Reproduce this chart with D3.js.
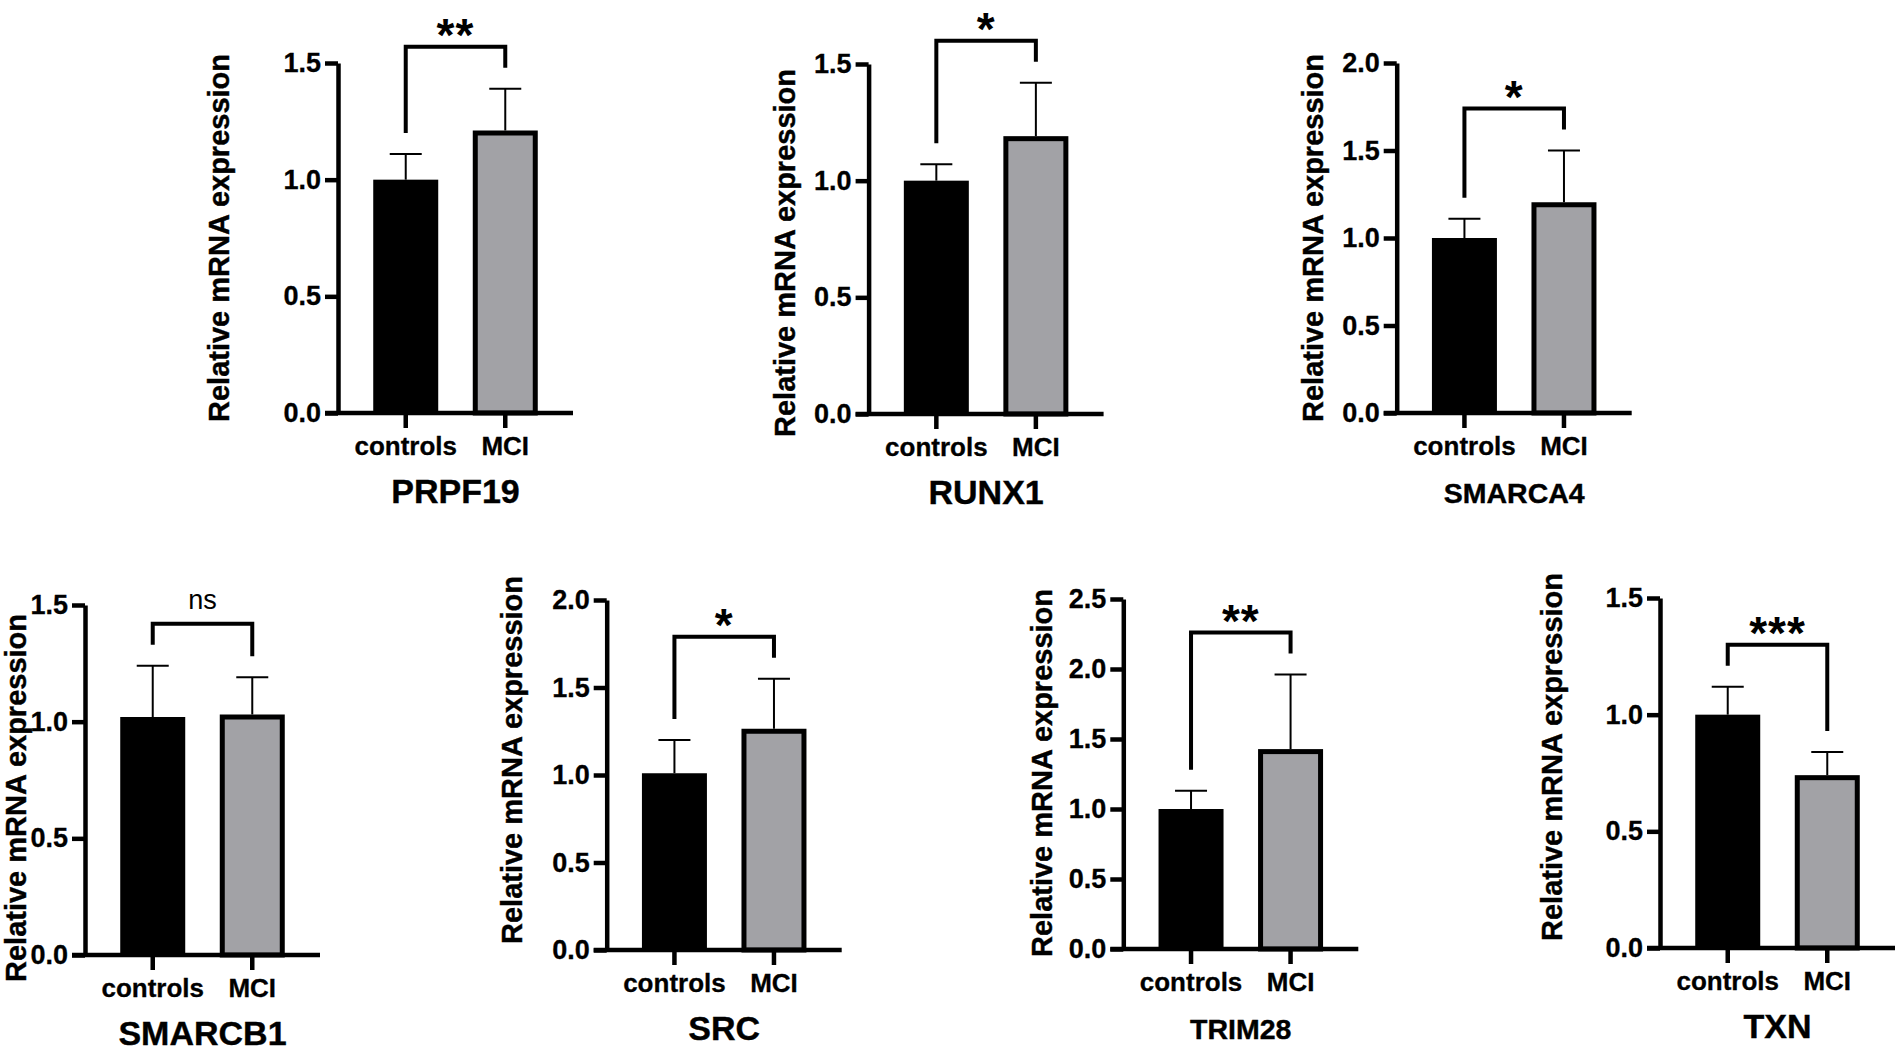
<!DOCTYPE html>
<html>
<head>
<meta charset="utf-8">
<script src="https://cdn.jsdelivr.net/npm/d3@7"></script>
<style>
  html, body { margin: 0; padding: 0; background: #fff; }
  svg { display: block; }
  text { font-family: "Liberation Sans", Arial, Helvetica, sans-serif; fill: #000; }
</style>
</head>
<body>
<svg id="chart" width="1902" height="1052"></svg>
<script>
// ---- data ----
const genes = ["PRPF19", "RUNX1", "SMARCA4", "SMARCB1", "SRC", "TRIM28", "TXN"];
const groups = ["controls", "MCI"];
const controlMean = [1.00, 1.00, 1.00, 1.02, 1.01, 1.00, 1.00];
const controlSD   = [0.11, 0.07, 0.11, 0.22, 0.19, 0.13, 0.12];
const mciMean     = [1.20, 1.18, 1.19, 1.02, 1.25, 1.41, 0.73];
const mciSD       = [0.19, 0.24, 0.31, 0.17, 0.30, 0.55, 0.11];
const yMax        = [1.5, 1.5, 2.0, 1.5, 2.0, 2.5, 1.5];
const tickStep    = 0.5;
const significance = ["**", "*", "*", "ns", "*", "**", "***"];
const yTitle = "Relative mRNA expression";

// ---- layout (pixel placement of each panel) ----
const layout = [
  { ax: 338,    y0: 413, tx: 119, ty: 175, ts: 34 },
  { ax: 868.6,  y0: 414, tx: 84,  ty: 161, ts: 34 },
  { ax: 1396.7, y0: 413, tx: 84,  ty: 175, ts: 28.5 },
  { ax: 85,     y0: 955, tx: 69,  ty: 157, ts: 34 },
  { ax: 606.7,  y0: 950, tx: 95,  ty: 190, ts: 34 },
  { ax: 1123.3, y0: 949, tx: 82,  ty: 176, ts: 28.5 },
  { ax: 1660,   y0: 948, tx: 108, ty: 191, ts: 34 }
];
const PH = 350, PW = 235;
const GRAY = "#a2a2a6";
const FONT = "Liberation Sans, Arial, sans-serif";

const svg = d3.select("#chart");

genes.forEach((gene, i) => {
  const L = layout[i];
  const g = svg.append("g").attr("transform", `translate(${L.ax},${L.y0})`);

  const y = d3.scaleLinear().domain([0, yMax[i]]).range([0, -PH]);
  const x = d3.scaleBand().domain(groups).range([0, PW])
    .paddingInner(0.347).paddingOuter(0.354);
  const bw = x.bandwidth();
  const ticks = d3.range(0, yMax[i] + 1e-9, tickStep);

  const means = [controlMean[i], mciMean[i]];
  const sds = [controlSD[i], mciSD[i]];

  // bars
  g.append("rect")
    .attr("x", x(groups[0])).attr("width", bw)
    .attr("y", y(means[0])).attr("height", -y(means[0]))
    .attr("fill", "#000");
  g.append("rect")
    .attr("x", x(groups[1]) + 2.5).attr("width", bw - 5)
    .attr("y", y(means[1])).attr("height", -y(means[1]))
    .attr("fill", GRAY).attr("stroke", "#000").attr("stroke-width", 5);

  // error bars (upper SD only)
  groups.forEach((grp, k) => {
    const cx = x(grp) + bw / 2;
    const yb = y(means[k]) - (k === 1 ? 2.5 : 0);
    const yt = y(means[k] + sds[k]);
    g.append("line").attr("x1", cx).attr("x2", cx).attr("y1", yb).attr("y2", yt)
      .attr("stroke", "#000").attr("stroke-width", 2);
    g.append("line").attr("x1", cx - 16).attr("x2", cx + 16).attr("y1", yt).attr("y2", yt)
      .attr("stroke", "#000").attr("stroke-width", 2);
  });

  // axes
  const yAxis = d3.axisLeft(y).tickValues(ticks).tickSize(13).tickSizeOuter(0)
    .tickPadding(4).tickFormat(d3.format(".1f"));
  const ya = g.append("g").call(yAxis);
  ya.select(".domain").attr("stroke-width", 4.5);
  ya.selectAll(".tick line").attr("stroke-width", 4.5);
  ya.selectAll(".tick text").attr("font-size", 27).attr("font-weight", "bold")
    .attr("font-family", FONT).attr("stroke", "#000").attr("stroke-width", 0.3);

  const xAxis = d3.axisBottom(x).tickSize(15).tickSizeOuter(0);
  const xa = g.append("g").call(xAxis);
  xa.select(".domain").attr("stroke-width", 4.5).attr("d", `M-13,0H${PW}`);
  xa.selectAll(".tick line").attr("stroke-width", 4.5);
  xa.selectAll(".tick text").attr("font-size", 26).attr("font-weight", "bold")
    .attr("font-family", FONT).attr("stroke", "#000").attr("stroke-width", 0.3)
    .attr("y", 42).attr("dy", 0);

  // y title
  g.append("text")
    .attr("transform", `translate(${-L.tx},${-L.ty}) rotate(-90)`)
    .attr("text-anchor", "middle").attr("dy", "0.36em")
    .attr("font-size", 29).attr("font-weight", "bold")
    .attr("stroke", "#000").attr("stroke-width", 0.4)
    .text(yTitle);

  // panel title
  g.append("text").attr("x", PW / 2).attr("y", 90)
    .attr("text-anchor", "middle").attr("font-size", L.ts).attr("font-weight", "bold")
    .attr("stroke", "#000").attr("stroke-width", 0.4)
    .text(gene);

  // significance bracket
  const c1 = x(groups[0]) + bw / 2, c2 = x(groups[1]) + bw / 2;
  const lb = y(means[0] + sds[0]) - 21;
  const rb = y(means[1] + sds[1]) - 21;
  const top = Math.min(lb, rb) - 21;
  g.append("path")
    .attr("d", `M${c1},${lb}V${top}H${c2}V${rb}`)
    .attr("fill", "none").attr("stroke", "#000").attr("stroke-width", 4)
    .attr("stroke-linejoin", "miter");
  const lc = top - 22;
  const sig = significance[i];
  if (sig === "ns") {
    g.append("text").attr("x", (c1 + c2) / 2).attr("y", lc + 7)
      .attr("text-anchor", "middle").attr("font-size", 27).text(sig);
  } else {
    g.append("text").attr("x", (c1 + c2) / 2).attr("y", lc + 26)
      .attr("text-anchor", "middle").attr("font-size", 46).attr("font-weight", "bold")
      .attr("letter-spacing", 1).text(sig);
  }
});
</script>
</body>
</html>
